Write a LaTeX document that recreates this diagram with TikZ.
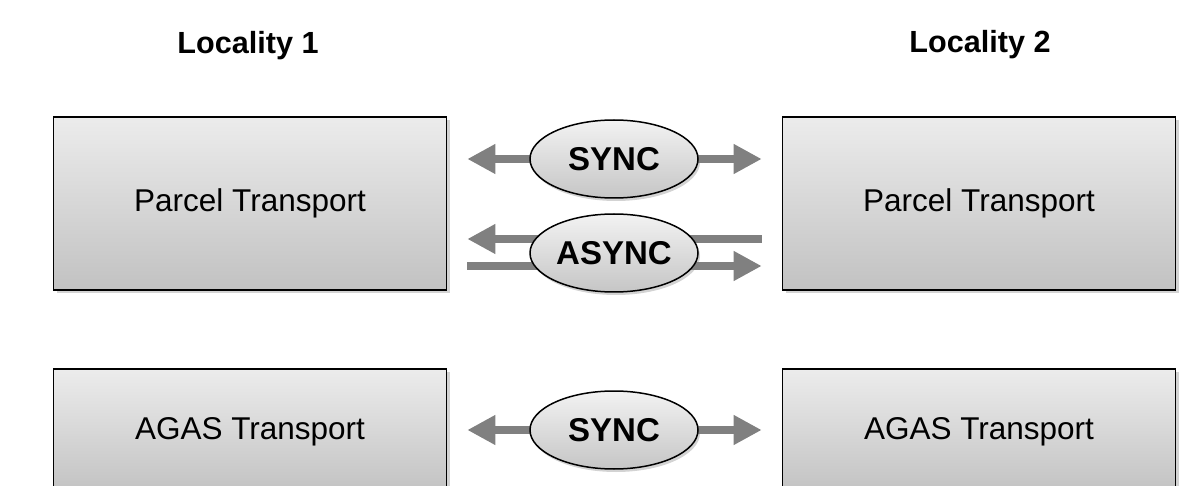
\documentclass[tikz,border=0pt]{standalone}
\usepackage{fontspec}
\setmainfont{Liberation Sans}
\usetikzlibrary{arrows.meta,shapes.geometric,shadows,backgrounds}

\tikzset{
  module/.style={draw=black, line width=1.6pt, top color=gray!15, bottom color=gray!48,
    minimum width=393pt, minimum height=173pt, inner sep=0pt,
    drop shadow={shadow xshift=3pt, shadow yshift=-3pt, opacity=0.35},
    font=\fontsize{31.5}{36}\selectfont},
  mode/.style={ellipse, draw=black, line width=1.5pt, top color=gray!10, bottom color=gray!45,
    minimum width=168pt, minimum height=78pt, inner sep=0pt,
    drop shadow={shadow xshift=2pt, shadow yshift=-3pt, opacity=0.35},
    font=\fontsize{33}{38}\selectfont\bfseries},
  locality/.style={font=\fontsize{30.6}{36}\selectfont\bfseries},
  link/.style={draw=gray, line width=8pt, shorten >=20pt},
  msg/.style={link, -{Triangle[length=28pt,width=28pt]}},
}

\begin{document}
\begin{tikzpicture}[x=1pt, y=-1pt]
\useasboundingbox (0,0) rectangle (1194,486);
\clip (0,0) rectangle (1194,486);

\node[locality] (loc1) at (248,46) {Locality 1};
\node[locality] (loc2) at (980,45) {Locality 2};

% transport layers of both localities
\node[module] (pt1) at (250,203.5) {Parcel Transport};
\node[module] (pt2) at (979,203.5) {Parcel Transport};
\node[module, minimum height=126pt] (agas1) at (250,432) {AGAS Transport};
\node[module, minimum height=126pt] (agas2) at (979,432) {AGAS Transport};

\node[mode] (sync) at (614,159) {SYNC};
\node[mode] (async) at (614,253) {ASYNC};
\node[mode] (agsync) at (614,430) {SYNC};

\begin{scope}[on background layer]
\draw[msg] (sync.center) -- (sync.center -| pt1.east);
\draw[msg] (sync.center) -- (sync.center -| pt2.west);
\draw[msg] ([yshift=14pt]async.center) -- ([yshift=14pt]async.center -| pt1.east);
\draw[link] ([yshift=14pt]async.center) -- ([yshift=14pt]async.center -| pt2.west);
\draw[link] ([yshift=-13pt]async.center) -- ([yshift=-13pt]async.center -| pt1.east);
\draw[msg] ([yshift=-13pt]async.center) -- ([yshift=-13pt]async.center -| pt2.west);
\draw[msg] (agsync.center) -- (agsync.center -| agas1.east);
\draw[msg] (agsync.center) -- (agsync.center -| agas2.west);
\end{scope}
\end{tikzpicture}
\end{document}
